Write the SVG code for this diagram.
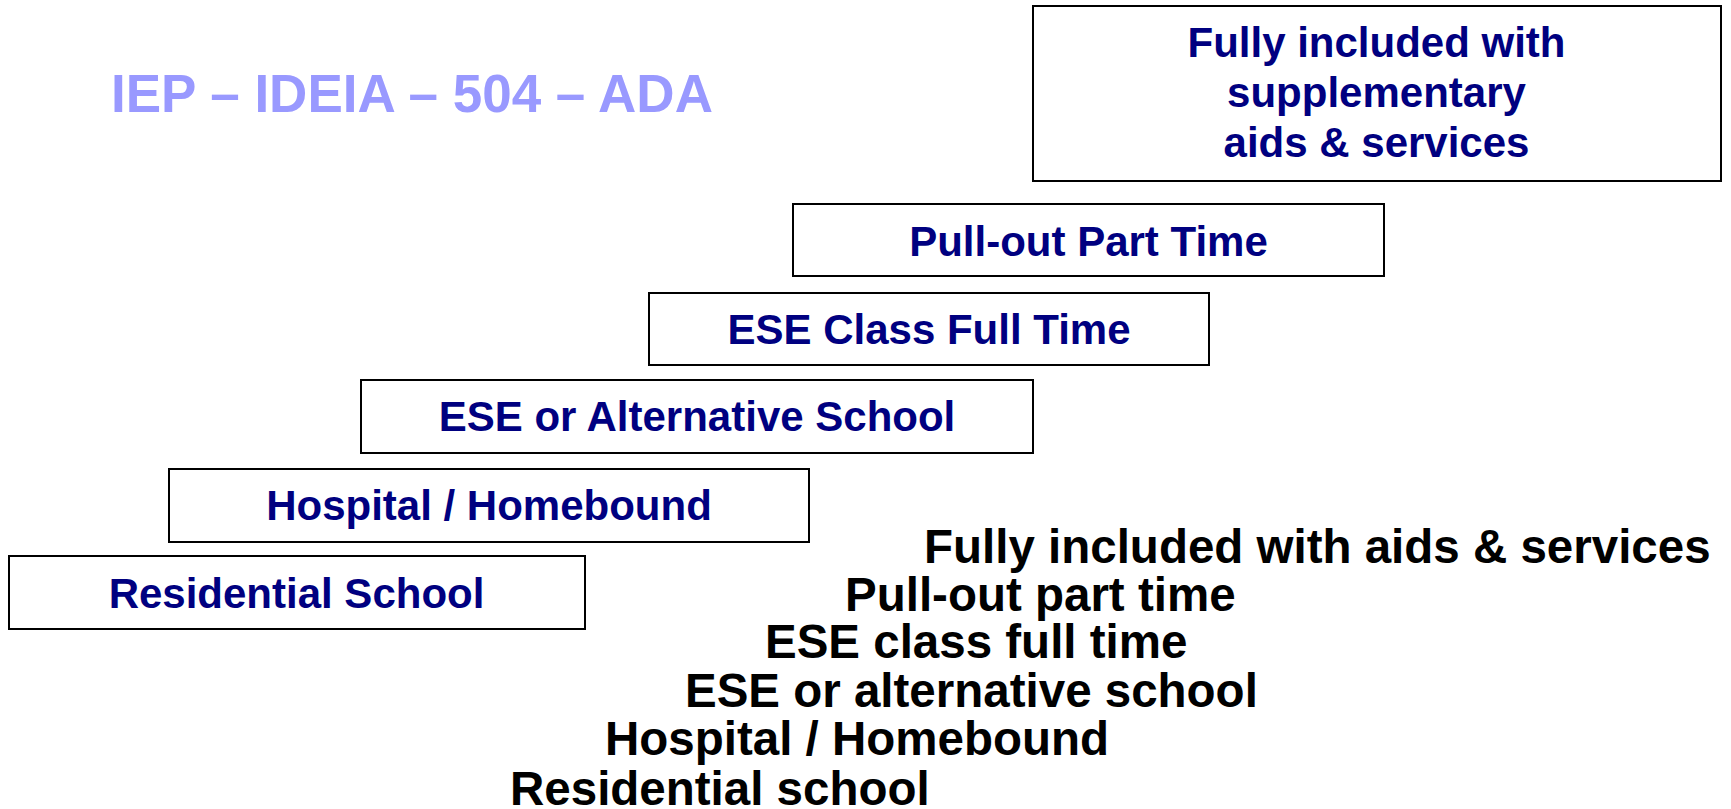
<svg xmlns="http://www.w3.org/2000/svg" width="1731" height="809" viewBox="0 0 1731 809">
<style>
.box{fill:#ffffff;stroke:#000000;stroke-width:2}
.bt{font-family:"Liberation Sans",Arial,sans-serif;font-weight:bold;font-size:42px;fill:#000080;text-anchor:middle}
.lt{font-family:"Liberation Sans",Arial,sans-serif;font-weight:bold;font-size:47.5px;fill:#000000}
.title{font-family:"Liberation Sans",Arial,sans-serif;font-weight:bold;font-size:53px;fill:#9999FF}
</style>
<rect width="1731" height="809" fill="#ffffff"/>
<text class="title" x="111" y="111.7">IEP – IDEIA – 504 – ADA</text>
<g id="node-fully">
<rect class="box" x="1033" y="6" width="688" height="175"/>
<text class="bt" x="1376.5" y="56.7">Fully included with</text>
<text class="bt" x="1376.5" y="107">supplementary</text>
<text class="bt" x="1376.5" y="156.7">aids &amp; services</text>
</g>
<g id="node-pullout">
<rect class="box" x="793" y="204" width="591" height="72"/>
<text class="bt" x="1088.5" y="255.5">Pull-out Part Time</text>
</g>
<g id="node-eseclass">
<rect class="box" x="649" y="293" width="560" height="72"/>
<text class="bt" x="929" y="344">ESE Class Full Time</text>
</g>
<g id="node-esealt">
<rect class="box" x="361" y="380" width="672" height="73"/>
<text class="bt" x="697" y="431">ESE or Alternative School</text>
</g>
<g id="node-hospital">
<rect class="box" x="169" y="469" width="640" height="73"/>
<text class="bt" x="489" y="520">Hospital / Homebound</text>
</g>
<g id="node-residential">
<rect class="box" x="9" y="556" width="576" height="73"/>
<text class="bt" x="296.5" y="607.5">Residential School</text>
</g>
<g id="connectors"></g>
<g id="list">
<text class="lt" x="924" y="563">Fully included with aids &amp; services</text>
<text class="lt" x="845" y="611">Pull-out part time</text>
<text class="lt" x="765" y="658">ESE class full time</text>
<text class="lt" x="685" y="707">ESE or alternative school</text>
<text class="lt" x="605" y="755">Hospital / Homebound</text>
<text class="lt" x="510" y="805">Residential school</text>
</g>
</svg>
